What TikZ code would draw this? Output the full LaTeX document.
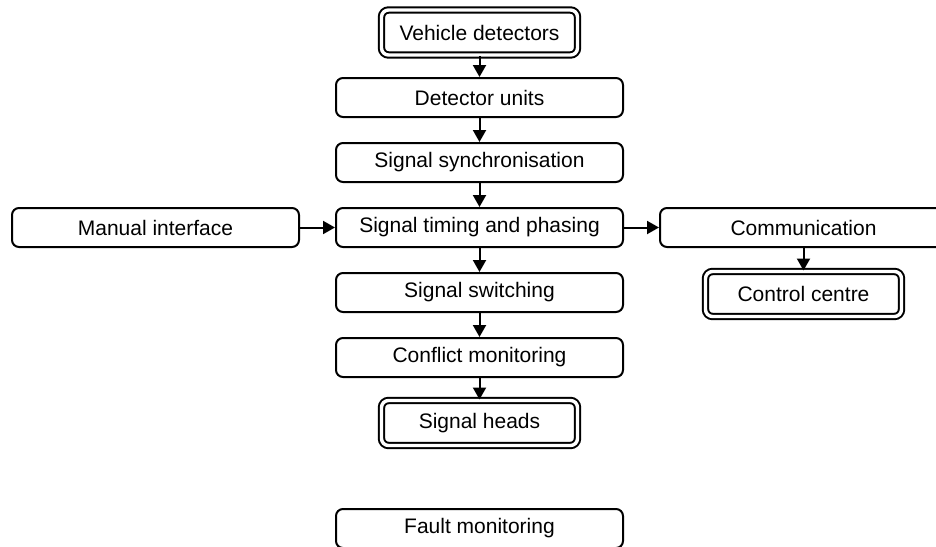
\documentclass[tikz,border=0pt]{standalone}
\usepackage{fontspec}
\setmainfont{Liberation Sans}
\usetikzlibrary{arrows.meta}
\tikzset{
  box/.style={draw, line width=2pt, rounded corners=7pt, inner sep=0pt,
    minimum width=287pt, minimum height=39pt,
    font=\fontsize{21}{25}\selectfont},
  dbox/.style={box, double, double distance=3.4pt, minimum width=196pt, minimum height=45pt},
  conn/.style={line width=2pt, -{Triangle[length=12pt,width=13pt]}}
}
\begin{document}
\begin{tikzpicture}[x=1pt,y=-1pt]
\useasboundingbox (0,0) rectangle (936,546);
\clip (0,0) rectangle (936,546);
\fill[white] (0,0) rectangle (936,546);
\node[dbox] (vd) at (479.5,32.5) {Vehicle detectors};
\node[box] (du) at (479.5,97.5) {Detector units};
\node[box] (ss) at (479.5,162.5) {Signal synchronisation};
\node[box] (tp) at (479.5,227.5) {Signal timing and phasing};
\node[box] (mi) at (155.5,227.5) {Manual interface};
\node[box] (co) at (803.5,227.5) {Communication};
\node[dbox] (cc) at (803.5,294) {Control centre};
\node[box] (sw) at (479.5,292.5) {Signal switching};
\node[box] (cm) at (479.5,357.5) {Conflict monitoring};
\node[dbox] (sh) at (479.5,423) {Signal heads};
\node[box] (fm) at (479.5,528.5) {Fault monitoring};
\draw[conn] (vd) -- (du);
\draw[conn] (du) -- (ss);
\draw[conn] (ss) -- (tp);
\draw[conn] (tp) -- (sw);
\draw[conn] (sw) -- (cm);
\draw[conn] (cm) -- (sh);
\draw[conn] (mi) -- (tp);
\draw[conn] (tp) -- (co);
\draw[conn] (co) -- (cc);
\end{tikzpicture}
\end{document}
